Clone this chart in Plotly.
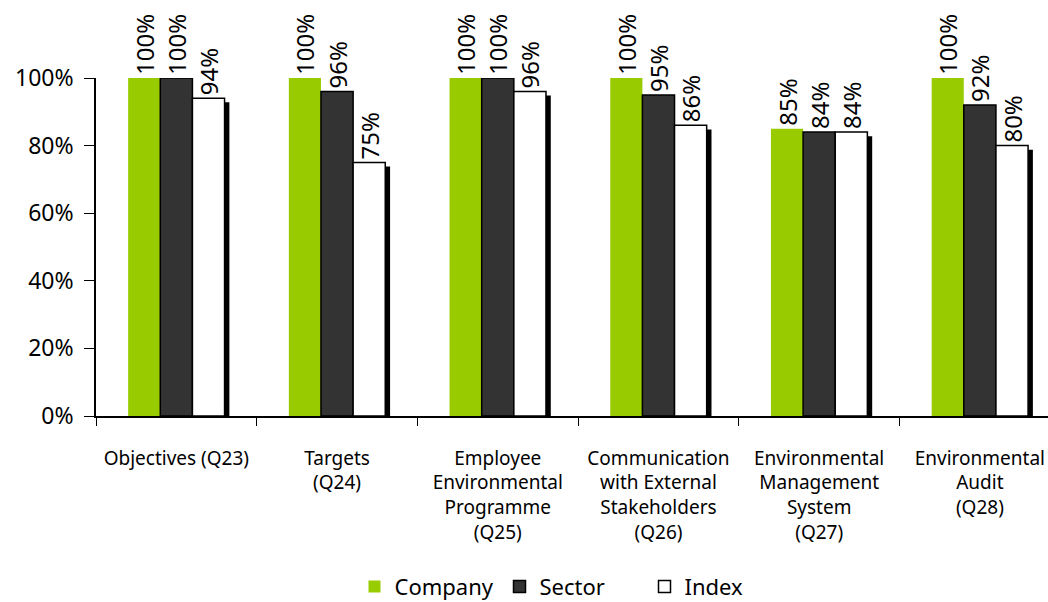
import plotly.graph_objects as go

categories = [
    "Objectives (Q23)",
    "Targets<br>(Q24)",
    "Employee<br>Environmental<br>Programme<br>(Q25)",
    "Communication<br>with External<br>Stakeholders<br>(Q26)",
    "Environmental<br>Management<br>System<br>(Q27)",
    "Environmental<br>Audit<br>(Q28)",
]
company = [100, 100, 100, 100, 85, 100]
sector = [100, 96, 100, 95, 84, 92]
index = [94, 75, 96, 86, 84, 80]

FONT = "Noto Sans"
BAR_W = 0.2
label_font = dict(family=FONT, size=24, color="black")


def pct(vals):
    return [f"{v}%" for v in vals]


fig = go.Figure()

fig.add_trace(go.Bar(
    name="Company", x=categories, y=company,
    width=BAR_W, offset=-0.3,
    marker=dict(color="#99cc00", line=dict(width=0)),
    text=pct(company), texttemplate="%{text}", textposition="outside", textangle=-90,
    textfont=label_font, cliponaxis=False, constraintext="none",
))
fig.add_trace(go.Bar(
    name="Sector", x=categories, y=sector,
    width=BAR_W, offset=-0.1,
    marker=dict(color="#333333", line=dict(color="black", width=1.5)),
    text=pct(sector), texttemplate="%{text}", textposition="outside", textangle=-90,
    textfont=label_font, cliponaxis=False, constraintext="none",
))
# drop shadow behind the Index bars
fig.add_trace(go.Bar(
    name="shadow", x=categories, y=index, base=-1.2,
    width=BAR_W, offset=0.13,
    marker=dict(color="black", line=dict(width=0)),
    showlegend=False, hoverinfo="skip", cliponaxis=False,
))
fig.add_trace(go.Bar(
    name="Index", x=categories, y=index,
    width=BAR_W, offset=0.1,
    marker=dict(color="white", line=dict(color="black", width=1.5)),
    text=pct(index), texttemplate="%{text}", textposition="outside", textangle=-90,
    textfont=label_font, cliponaxis=False, constraintext="none",
))

fig.update_layout(
    width=1048, height=602,
    barmode="overlay",
    paper_bgcolor="white", plot_bgcolor="white",
    font=dict(family=FONT, color="black"),
    margin=dict(l=96, r=0, t=78, b=186, autoexpand=False),
    showlegend=True,
    legend=dict(
        orientation="h", x=0.5, xanchor="center",
        y=-0.505, yanchor="middle",
        font=dict(family=FONT, size=22),
        entrywidth=100, entrywidthmode="pixels",
        traceorder="normal",
    ),
    xaxis=dict(
        type="category", range=[-0.5, 5.424], automargin=False,
        showline=True, linecolor="black", linewidth=1.5,
        ticks="outside", tickson="boundaries", ticklen=8, tickcolor="black",
        tickfont=dict(family=FONT, size=19), ticklabelstandoff=24,
        showgrid=False,
    ),
    yaxis=dict(
        range=[0, 100], dtick=20, ticksuffix="%", automargin=False,
        showline=True, linecolor="black", linewidth=1.5,
        ticks="outside", ticklen=10, tickcolor="black",
        tickfont=dict(family=FONT, size=23), ticklabelstandoff=6,
        showgrid=False, zeroline=False,
    ),
)

# page body has a default 8px margin; remove it so the figure sits at the corner
fig.write_html("out.html", config={"displayModeBar": False},
               post_script="document.body.style.margin='0';")
